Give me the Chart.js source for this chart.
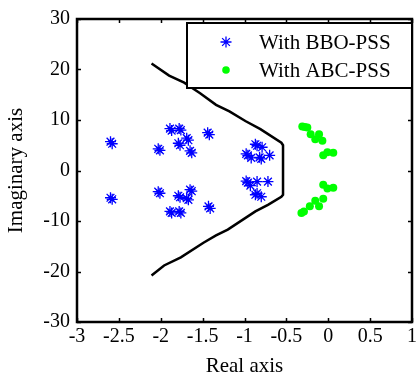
<!DOCTYPE html>
<html>
<head>
<meta charset="utf-8">
<script src="https://cdn.jsdelivr.net/npm/chart.js@4.4.0/dist/chart.umd.min.js"></script>
<style>
  html, body { margin: 0; padding: 0; background: #fff; }
  #wrap { width: 420px; height: 381px; }
</style>
</head>
<body>
<div id="wrap"><canvas id="rootChart" width="420" height="381"></canvas></div>
<script>
// eigenvalues (each blob is a few nearly coincident roots)
const bboReal = [-2.60, -2.58, -2.03, -2.01, -1.89, -1.87, -1.78, -1.76, -1.79, -1.77,
                 -1.67, -1.69, -1.65, -1.63, -1.44, -1.42,
                 -2.60, -2.58, -2.03, -2.01, -1.65, -1.63, -1.79, -1.77, -1.67, -1.69,
                 -1.89, -1.87, -1.78, -1.76, -1.43, -1.41,
                 -0.87, -0.85, -0.79, -0.98, -0.96, -0.70, -0.92, -0.80, -0.82,
                 -0.98, -0.96, -0.85, -0.72, -0.93, -0.85, -0.87, -0.80];
const bboImag = [5.7, 5.3, 4.3, 4.0, 8.3, 7.9, 8.3, 8.0, 5.4, 5.0,
                 6.0, 6.4, 3.9, 3.5, 7.5, 7.1,
                 -5.4, -5.7, -4.2, -4.5, -3.8, -4.1, -5.0, -5.3, -5.8, -5.5,
                 -8.1, -8.4, -8.1, -8.4, -7.1, -7.5,
                 5.2, 4.9, 4.6, 3.3, 3.0, 3.0, 2.5, 2.3, 2.6,
                 -2.1, -2.4, -2.2, -2.2, -3.0, -4.5, -4.8, -5.2];

const abcReal = [-0.31, -0.28, -0.25, -0.21, -0.11, -0.155, -0.07, -0.06, -0.01, 0.06,
                 -0.06, -0.01, 0.06, -0.06, -0.155, -0.11, -0.22, -0.29, -0.32];
const abcImag = [8.7, 8.6, 8.5, 7.2, 7.2, 6.2, 5.9, 3.0, 3.6, 3.5,
                 -2.8, -3.55, -3.4, -5.6, -6.0, -7.1, -7.1, -8.1, -8.4];

// damping boundary
const edgeReal = [-2.11, -1.90, -1.72, -1.53, -1.34, -1.18, -0.99, -0.81, -0.56, -0.54,
                  -0.54, -0.56, -0.72, -0.87, -1.20, -1.34, -1.49, -1.76, -1.96, -2.11];
const edgeImag = [21.2, 18.8, 17.4, 15.3, 13.0, 11.7, 9.8, 8.2, 5.5, 5.0,
                  -4.8, -5.2, -6.8, -8.1, -11.7, -12.85, -14.3, -17.2, -18.8, -20.8];

const xTicks = [-3, -2.5, -2, -1.5, -1, -0.5, 0, 0.5, 1];
const yTicks = [-30, -20, -10, 0, 10, 20, 30];
const seriesNames = ["With BBO-PSS", "With ABC-PSS"];

const serif = "'Liberation Serif', 'Times New Roman', serif";

function pairs(xs, ys) {
    return xs.map((x, i) => ({ x: x, y: ys[i] }));
}

// box, inward ticks and the boxed legend, matlab style
const frameAndLegend = {
    id: "frameAndLegend",
    afterDatasetsDraw(chart) {
        const ctx = chart.ctx;
        const a = chart.chartArea;
        const xs = chart.scales.x;
        const ys = chart.scales.y;
        ctx.save();
        ctx.strokeStyle = "#000";
        ctx.lineWidth = 1.5;
        ctx.beginPath();
        xTicks.forEach(v => {
            const px = Math.round(xs.getPixelForValue(v)) + 0.5;
            ctx.moveTo(px, a.bottom); ctx.lineTo(px, a.bottom - 4);
            ctx.moveTo(px, a.top); ctx.lineTo(px, a.top + 4);
        });
        yTicks.forEach(v => {
            const py = Math.round(ys.getPixelForValue(v)) + 0.5;
            ctx.moveTo(a.left, py); ctx.lineTo(a.left + 4, py);
            ctx.moveTo(a.right, py); ctx.lineTo(a.right - 4, py);
        });
        ctx.stroke();

        ctx.lineWidth = 2.5;
        ctx.strokeRect(a.left, a.top, a.right - a.left, a.bottom - a.top);

        // legend
        const lx = 187, ly = 23, lw = 225, lh = 65;
        ctx.fillStyle = "#fff";
        ctx.fillRect(lx, ly, lw, lh);
        ctx.lineWidth = 2;
        ctx.strokeRect(lx, ly, lw, lh);

        const rows = [ly + 19, ly + 47];
        ctx.strokeStyle = "#0000ff";
        ctx.lineWidth = 1.3;
        Chart.helpers.drawPoint(ctx, { pointStyle: "star", radius: 5.5, borderWidth: 1.3 }, 226, rows[0]);
        ctx.fillStyle = "#00ff00";
        ctx.beginPath();
        ctx.arc(226, rows[1], 3.8, 0, Math.PI * 2);
        ctx.fill();

        ctx.fillStyle = "#000";
        ctx.font = "21px " + serif;
        ctx.textBaseline = "middle";
        ctx.textAlign = "left";
        ctx.fillText(seriesNames[0], 259, rows[0] + 1);
        ctx.fillText(seriesNames[1], 259, rows[1] + 1);
        ctx.restore();
    }
};

new Chart(document.getElementById("rootChart").getContext("2d"), {
    type: "scatter",
    data: {
        datasets: [{
            label: "boundary",
            data: pairs(edgeReal, edgeImag),
            showLine: true,
            borderColor: "#000",
            borderWidth: 2.5,
            pointRadius: 0,
            tension: 0
        }, {
            label: seriesNames[0],
            data: pairs(bboReal, bboImag),
            pointStyle: "star",
            pointRadius: 5.5,
            borderColor: "#0000ff",
            backgroundColor: "#0000ff",
            pointBorderWidth: 1.3
        }, {
            label: seriesNames[1],
            data: pairs(abcReal, abcImag),
            pointStyle: "circle",
            pointRadius: 4,
            borderColor: "#00ff00",
            backgroundColor: "#00ff00",
            pointBorderWidth: 0
        }]
    },
    options: {
        responsive: false,
        animation: false,
        layout: { padding: { top: 15, right: 1, left: 0, bottom: 0 } },
        scales: {
            x: {
                type: "linear",
                min: -3,
                max: 1,
                afterFit: s => { s.height = 59; },
                afterBuildTicks: s => { s.ticks = xTicks.map(v => ({ value: v })); },
                grid: { display: false, drawTicks: false },
                border: { display: false },
                ticks: {
                    color: "#000",
                    font: { family: serif, size: 20 },
                    padding: 3,
                    maxRotation: 0,
                    callback: v => String(v)
                },
                title: {
                    display: true,
                    text: "Real axis",
                    color: "#000",
                    font: { family: serif, size: 21 },
                    padding: { top: 0, bottom: 2 }
                }
            },
            y: {
                type: "linear",
                min: -30,
                max: 30,
                afterFit: s => { s.width = 77; },
                afterBuildTicks: s => { s.ticks = yTicks.map(v => ({ value: v })); },
                grid: { display: false, drawTicks: false },
                border: { display: false },
                ticks: {
                    color: "#000",
                    font: { family: serif, size: 20 },
                    padding: 7,
                    callback: v => String(v)
                },
                title: {
                    display: true,
                    text: "Imaginary axis",
                    color: "#000",
                    font: { family: serif, size: 21 },
                    padding: { top: 4, bottom: 0 }
                }
            }
        },
        plugins: {
            legend: { display: false },
            tooltip: { enabled: false }
        }
    },
    plugins: [frameAndLegend]
});
</script>
</body>
</html>
